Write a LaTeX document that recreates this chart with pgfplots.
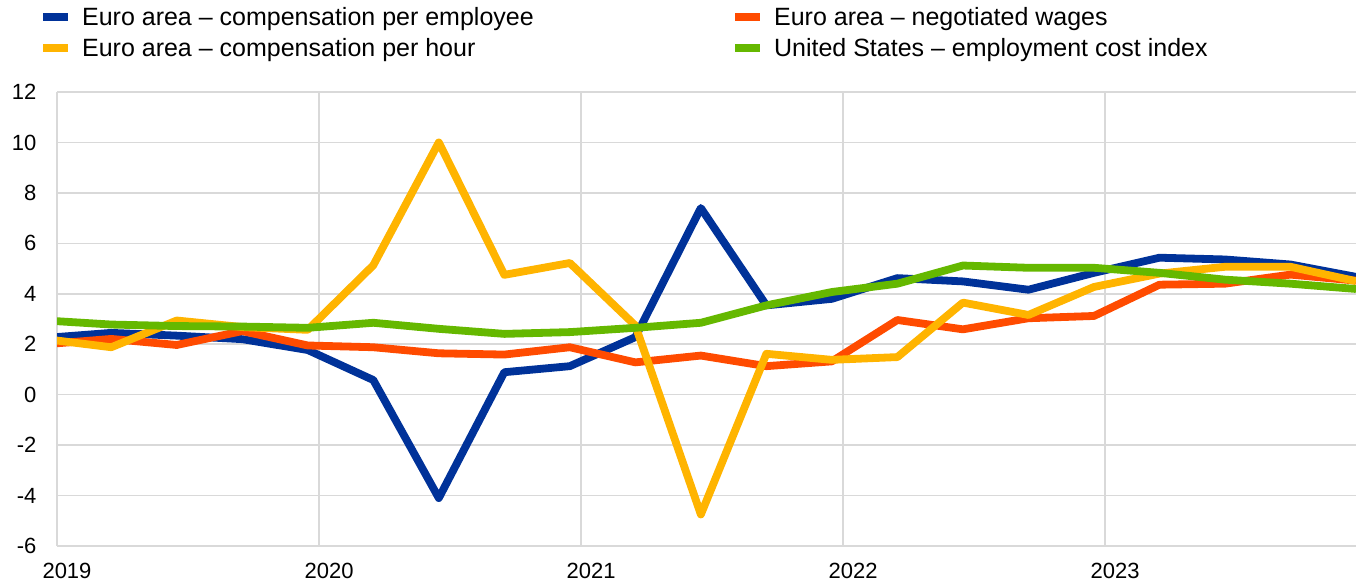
\documentclass[border=0pt]{standalone}
\usepackage{fontspec}
\setmainfont{Liberation Sans}
\usepackage{pgfplots}
\pgfplotsset{compat=1.18}
\definecolor{ecbblue}{RGB}{0,50,153}
\definecolor{ecbyellow}{RGB}{255,180,0}
\definecolor{ecborange}{RGB}{255,75,0}
\definecolor{ecbgreen}{RGB}{101,184,0}
\definecolor{gridgray}{RGB}{217,217,217}
\begin{document}
\begin{tikzpicture}
\useasboundingbox (0pt,0pt) rectangle (1356pt,583pt);
\begin{axis}[
  at={(57pt,37pt)}, anchor=south west,
  scale only axis, width=1299pt, height=454pt,
  xmin=2019, xmax=2023.957, ymin=-6, ymax=12,
  xtick={2019,2020,2021,2022,2023},
  xticklabels={2019,2020,2021,2022,2023},
  ytick={-6,-4,...,12},
  yticklabels={-6,-4,-2,0,2,4,6,8,10,12},
  axis line style={draw=none},
  major tick length=0pt,
  grid=major,
  major grid style={draw=gridgray, line width=1.5pt},
  font=\fontsize{22}{26}\selectfont,
  ticklabel style={font=\fontsize{22}{26}\selectfont},
  xticklabel style={xshift=10pt, yshift=-14pt},
  yticklabel style={xshift=-17pt},
  every axis plot/.append style={line width=7.8pt, line join=round},
  legend columns=2,
  legend cell align=left,
  legend image code/.code={\draw[#1, line width=8pt, line cap=butt] (0pt,0pt) -- (25pt,0pt);},
  legend style={draw=none, fill=none, at={(axis description cs:-0.0139,1.191)}, anchor=north west,
    inner sep=0pt, row sep=7.5pt, font=\fontsize{25}{29}\selectfont,
    /tikz/every odd column/.append style={column sep=8pt}},
]
\addplot[color=ecbblue] coordinates {
(2018.957,2.25) (2019.207,2.45) (2019.457,2.34) (2019.707,2.2) (2019.957,1.77)
(2020.207,0.58) (2020.457,-4.1) (2020.707,0.89) (2020.957,1.13)
(2021.207,2.28) (2021.457,7.4) (2021.707,3.54) (2021.957,3.8)
(2022.207,4.62) (2022.457,4.49) (2022.707,4.16) (2022.957,4.83)
(2023.207,5.43) (2023.457,5.36) (2023.707,5.16) (2023.957,4.67)};
\addlegendentry{\makebox[647pt][l]{Euro area -- compensation per employee}}
\addplot[color=ecborange] coordinates {
(2018.957,2.0) (2019.207,2.21) (2019.457,1.97) (2019.707,2.52) (2019.957,1.95)
(2020.207,1.88) (2020.457,1.64) (2020.707,1.59) (2020.957,1.88)
(2021.207,1.28) (2021.457,1.55) (2021.707,1.13) (2021.957,1.32)
(2022.207,2.96) (2022.457,2.59) (2022.707,3.03) (2022.957,3.12)
(2023.207,4.36) (2023.457,4.4) (2023.707,4.76) (2023.957,4.52)};
\addlegendentry{Euro area -- negotiated wages}
\addplot[color=ecbyellow] coordinates {
(2018.957,2.2) (2019.207,1.88) (2019.457,2.94) (2019.707,2.68) (2019.957,2.57)
(2020.207,5.13) (2020.457,10.0) (2020.707,4.75) (2020.957,5.22)
(2021.207,2.74) (2021.457,-4.75) (2021.707,1.62) (2021.957,1.38)
(2022.207,1.49) (2022.457,3.65) (2022.707,3.16) (2022.957,4.27)
(2023.207,4.8) (2023.457,5.07) (2023.707,5.07) (2023.957,4.5)};
\addlegendentry{\makebox[647pt][l]{Euro area -- compensation per hour}}
\addplot[color=ecbgreen] coordinates {
(2018.957,2.94) (2019.207,2.78) (2019.457,2.72) (2019.707,2.7) (2019.957,2.65)
(2020.207,2.85) (2020.457,2.61) (2020.707,2.41) (2020.957,2.48)
(2021.207,2.65) (2021.457,2.85) (2021.707,3.54) (2021.957,4.07)
(2022.207,4.4) (2022.457,5.12) (2022.707,5.03) (2022.957,5.03)
(2023.207,4.83) (2023.457,4.56) (2023.707,4.4) (2023.957,4.19)};
\addlegendentry{United States -- employment cost index}
\end{axis}
\end{tikzpicture}
\end{document}
